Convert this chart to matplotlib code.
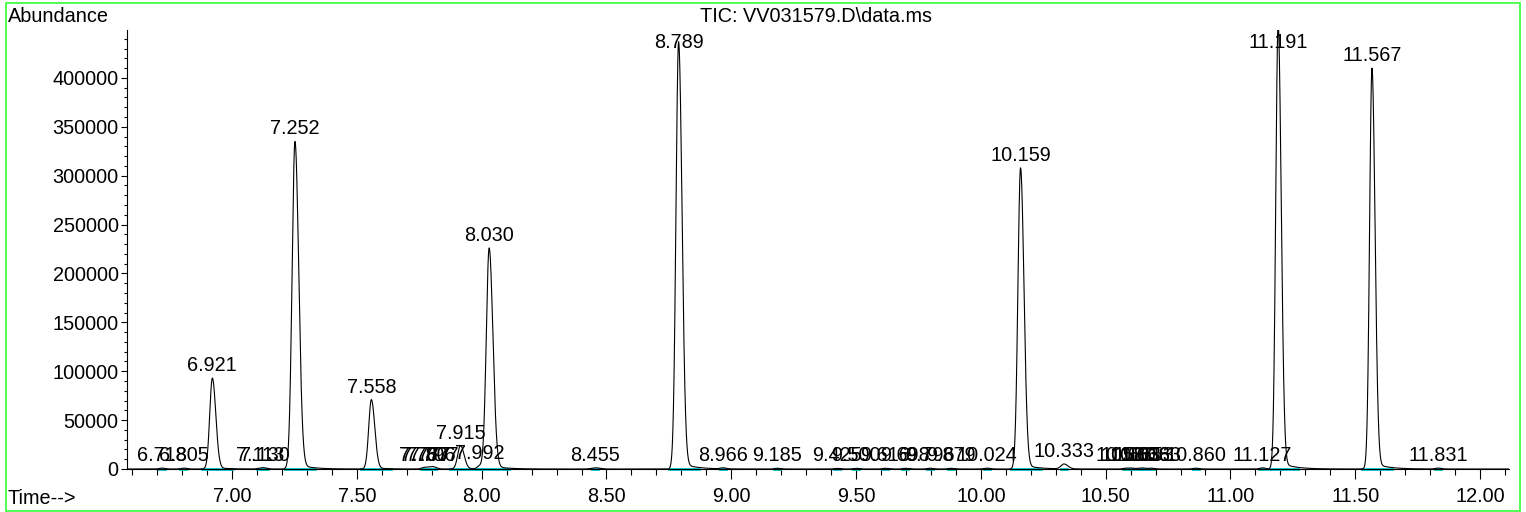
import numpy as np
import matplotlib.pyplot as plt
from matplotlib.patches import Rectangle
from matplotlib.ticker import MultipleLocator, FixedLocator

plt.rcParams['font.family'] = ['Liberation Sans', 'DejaVu Sans']

# peak table (retention time, apex abundance, width)
rt_labels = ['6.718', '6.805', '6.921', '7.113', '7.130', '7.252', '7.558',
             '7.767', '7.777', '7.796', '7.807', '7.915', '7.992', '8.030',
             '8.455', '8.789', '8.966', '9.185', '9.425', '9.500', '9.616',
             '9.698', '9.796', '9.879', '10.024', '10.159', '10.333', '10.580',
             '10.603', '10.636', '10.653', '10.683', '10.860', '11.127',
             '11.191', '11.567', '11.831']
heights = [900, 900, 93000, 800, 900, 335000, 71000,
           900, 1000, 1100, 1500, 24000, 3000, 226000,
           1200, 437000, 1000, 800, 600, 700, 700,
           700, 800, 700, 900, 308000, 5000, 800,
           800, 700, 700, 800, 800, 1200,
           455000, 410000, 900]
sigmas = [0.01, 0.01, 0.0105, 0.01, 0.01, 0.0115, 0.0105,
          0.01, 0.01, 0.01, 0.01, 0.011, 0.01, 0.0115,
          0.015, 0.0105, 0.01, 0.01, 0.01, 0.01, 0.01,
          0.01, 0.01, 0.01, 0.01, 0.0105, 0.012, 0.01,
          0.01, 0.01, 0.01, 0.01, 0.01, 0.01,
          0.0095, 0.0095, 0.01]

x_min, x_max = 6.579, 12.116
y_max = 449000

times = np.array([float(s) for s in rt_labels])
h = np.array(heights, dtype=float)
sg = np.array(sigmas)

t = np.arange(x_min, x_max, 0.0005)
sig = np.zeros_like(t)
for t0, a, s in zip(times, h, sg):
    sr = np.where(t < t0, s, 1.3 * s)
    sig += a * np.exp(-0.5 * ((t - t0) / sr) ** 2)
    # tailing after each peak
    tail = np.where(t > t0, np.exp(-(t - t0) / 0.05), 0.0)
    tail *= 1 - np.exp(-0.5 * ((t - t0) / (2 * s)) ** 2)
    sig += a * 0.018 * tail

fig = plt.figure(figsize=(15.26, 5.12), dpi=100)
ax = fig.add_axes([127 / 1526, 43 / 512, (1509 - 127) / 1526, (469 - 30) / 512])

# integration baselines
for t0, a in zip(times, h):
    if a > 20000:
        x0, x1 = t0 - 0.04, t0 + 0.08
    else:
        x0, x1 = t0 - 0.012, t0 + 0.012
    ax.plot([x0, x1], [0, 0], color='#00c8d0', lw=2, zorder=2, clip_on=False)

ax.plot(t, sig, color='black', lw=0.8, zorder=3)

for lab, t0, a in zip(rt_labels, times, h):
    ax.annotate(lab, (t0, min(a, 423000)), xytext=(0, 3), textcoords='offset pixels',
                ha='center', va='bottom', fontsize=14.3, zorder=4)

ax.set_xlim(x_min, x_max)
ax.set_ylim(0, y_max)
for side in ['top', 'right']:
    ax.spines[side].set_visible(False)
ax.spines['left'].set_linewidth(0.8)
ax.spines['bottom'].set_linewidth(0.8)

ax.xaxis.set_major_locator(FixedLocator([7.0, 7.5, 8.0, 8.5, 9.0, 9.5, 10.0, 10.5, 11.0, 11.5, 12.0]))
ax.xaxis.set_minor_locator(MultipleLocator(0.1))
ax.set_xticklabels(['7.00', '7.50', '8.00', '8.50', '9.00', '9.50', '10.00',
                    '10.50', '11.00', '11.50', '12.00'])
ax.yaxis.set_major_locator(FixedLocator(np.arange(0, 400001, 50000)))
ax.yaxis.set_minor_locator(MultipleLocator(10000))
ax.tick_params(axis='x', which='major', direction='out', length=7, width=0.8, pad=6, labelsize=14.3)
ax.tick_params(axis='x', which='minor', direction='out', length=4, width=0.8)
ax.tick_params(axis='y', which='major', direction='out', length=4, width=0.8, pad=2, labelsize=14.3)
ax.tick_params(axis='y', which='minor', direction='out', length=2, width=0.8)

fig.text(8 / 1526, 1 - 16 / 512, 'Abundance', fontsize=14.3, ha='left', va='center')
fig.text(816 / 1526, 1 - 17 / 512, 'TIC: VV031579.D\\data.ms', fontsize=14.3, ha='center', va='center')
fig.text(8 / 1526, 1 - 498 / 512, 'Time-->', fontsize=14.3, ha='left', va='center')

fig.patches.append(Rectangle((6 / 1526, 1 / 512), 1514 / 1526, 508 / 512,
                             transform=fig.transFigure, fill=False,
                             edgecolor='#33ff33', lw=1.2))

fig.savefig('out.png', dpi=100)
